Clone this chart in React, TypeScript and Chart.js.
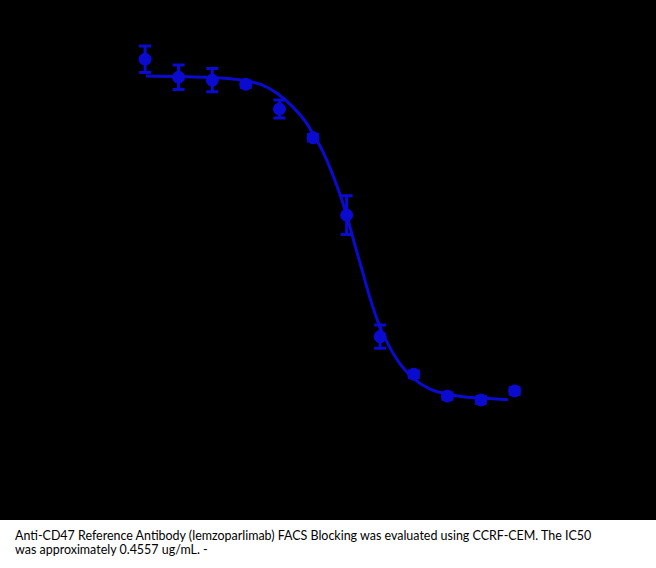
import React, { useEffect, useRef, useState } from "react";
import { Chart, registerables } from "chart.js";

Chart.register(...registerables);

// Antibody concentration (ug/mL), 3-fold dilution series
const concentrations = [0.000565, 0.00169, 0.00508, 0.0152, 0.0457, 0.137, 0.412, 1.23, 3.7, 11.1, 33.3, 100];
// Measured blocking signal (% of max)
const meanValues = [105.3, 99.7, 98.8, 97.5, 89.8, 80.9, 56.8, 19.0, 7.3, 0.5, -0.7, 2.1];
const errValues = [4.1, 3.8, 3.6, 1.0, 2.8, 1.0, 6.0, 3.6, 1.0, 1.0, 1.0, 1.0];

// Fitted curve
const fitConc = [0.000583, 0.001606, 0.00488, 0.01436, 0.02586, 0.04362, 0.0713, 0.1055, 0.137, 0.1839, 0.2388, 0.3102, 0.403, 0.5236, 0.6801, 0.8837, 1.225, 1.699, 2.357, 3.605, 6.284, 10.96, 19.74, 37.96, 80.5];
const fitValues = [100.1, 99.9, 99.6, 98.7, 97.3, 94.5, 90.4, 86.1, 82.1, 77.1, 71.5, 65.0, 57.5, 48.5, 39.8, 31.0, 22.0, 15.5, 10.5, 6.1, 2.7, 1.2, 0.2, -0.2, -0.6];

const captionLines = [
  "Anti-CD47 Reference Antibody (lemzoparlimab) FACS Blocking was evaluated using CCRF-CEM. The IC50",
  "was approximately 0.4557 ug/mL. -",
];

const BLUE = "#0b0bd0";
const CAPTION_FONT = '"Lato", "Noto Sans", sans-serif';

const bgPlugin = {
  id: "blackBg",
  beforeDraw(chart: any) {
    const ctx = chart.ctx;
    ctx.save();
    ctx.fillStyle = "#000000";
    ctx.fillRect(0, 0, chart.width, chart.height);
    ctx.restore();
  },
};

const errorBarPlugin = {
  id: "errorBars",
  afterDatasetsDraw(chart: any) {
    const ctx = chart.ctx;
    const xs = chart.scales.x;
    const ys = chart.scales.y;
    ctx.save();
    ctx.strokeStyle = BLUE;
    ctx.lineWidth = 3;
    concentrations.forEach((c, i) => {
      const px = xs.getPixelForValue(c);
      const top = ys.getPixelForValue(meanValues[i] + errValues[i]);
      const bot = ys.getPixelForValue(meanValues[i] - errValues[i]);
      ctx.beginPath();
      ctx.moveTo(px, top);
      ctx.lineTo(px, bot);
      ctx.moveTo(px - 6, top);
      ctx.lineTo(px + 6, top);
      ctx.moveTo(px - 6, bot);
      ctx.lineTo(px + 6, bot);
      ctx.stroke();
    });
    ctx.fillStyle = BLUE;
    concentrations.forEach((c, i) => {
      const px = xs.getPixelForValue(c);
      const py = ys.getPixelForValue(meanValues[i]);
      ctx.beginPath();
      ctx.arc(px, py, 6, 0, Math.PI * 2);
      ctx.fill();
    });
    ctx.restore();
  },
};

export default function App() {
  const canvasRef = useRef<HTMLCanvasElement | null>(null);
  const [fontSize, setFontSize] = useState(14);

  useEffect(() => {
    document.body.style.margin = "0";
    const m = document.createElement("canvas").getContext("2d");
    if (m) {
      m.font = `14px ${CAPTION_FONT}`;
      const w = m.measureText(captionLines[0]).width;
      if (w > 0) setFontSize(Math.min(16, (14 * 578) / w));
    }
    const canvas = canvasRef.current;
    if (!canvas) return;
    const chart = new Chart(canvas, {
      type: "scatter",
      data: {
        datasets: [
          {
            type: "line",
            label: "Fit",
            data: fitConc.map((c, i) => ({ x: c, y: fitValues[i] })),
            borderColor: BLUE,
            borderWidth: 3,
            pointRadius: 0,
            fill: false,
            cubicInterpolationMode: "monotone",
          } as any,
          {
            label: "Data",
            data: concentrations.map((c, i) => ({ x: c, y: meanValues[i] })),
            backgroundColor: BLUE,
            borderColor: BLUE,
            pointRadius: 6,
          },
        ],
      },
      options: {
        animation: false,
        responsive: false,
        maintainAspectRatio: false,
        layout: { padding: { left: 7.6, right: 14.6, top: 12, bottom: 58 } },
        plugins: { legend: { display: false }, tooltip: { enabled: false } },
        scales: {
          x: { type: "logarithmic", min: 6.3096e-6, max: 6309.6, display: false },
          y: { type: "linear", min: -20, max: 120, display: false },
        },
      },
      plugins: [bgPlugin, errorBarPlugin],
    });
    return () => chart.destroy();
  }, []);

  return (
    <div style={{ width: 656, height: 568, background: "#ffffff", position: "relative" }}>
      <canvas ref={canvasRef} width={656} height={520} style={{ display: "block", width: 656, height: 520 }} />
      <div
        style={{
          position: "absolute",
          left: 15,
          top: 529,
          fontFamily: CAPTION_FONT,
          fontSize: fontSize,
          lineHeight: "14px",
          color: "#000",
          whiteSpace: "nowrap",
        }}
      >
        {captionLines[0]}
        <br />
        {captionLines[1]}
      </div>
    </div>
  );
}
